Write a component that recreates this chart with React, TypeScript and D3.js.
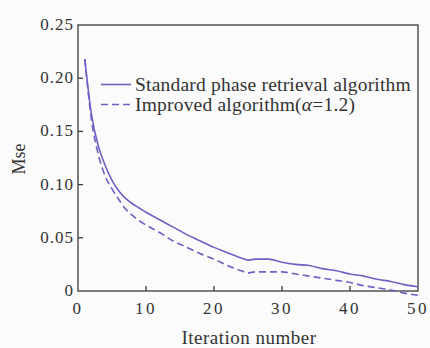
import React from 'react'
import * as d3 from 'd3'

// iteration numbers and mse
const iterations = [1, 2, 3, 4, 5, 6, 7, 8, 9, 10, 12, 14, 16, 18, 20, 22, 24, 25, 26, 28, 30, 32, 34, 36, 38, 40, 42, 44, 46, 48, 50]
const standardMse = [0.218, 0.165, 0.136, 0.118, 0.104, 0.094, 0.087, 0.082, 0.078, 0.074, 0.067, 0.060, 0.053, 0.047, 0.041, 0.036, 0.031, 0.029, 0.030, 0.030, 0.027, 0.025, 0.024, 0.021, 0.019, 0.016, 0.014, 0.011, 0.009, 0.006, 0.004]
const improvedMse = [0.218, 0.160, 0.128, 0.108, 0.096, 0.086, 0.077, 0.071, 0.066, 0.062, 0.055, 0.047, 0.041, 0.035, 0.030, 0.024, 0.019, 0.017, 0.018, 0.018, 0.018, 0.016, 0.014, 0.012, 0.010, 0.008, 0.005, 0.003, 0.001, -0.002, -0.004]
const xTicks = [0, 10, 20, 30, 40, 50]
const yTicks = [0, 0.05, 0.1, 0.15, 0.2, 0.25]

const W = 430
const H = 348
const m = { left: 78, right: 12, top: 25, bottom: 57 }
const lineColor = '#6b62c4'
const axisColor = '#3a3a3a'
const font = '"Liberation Serif", "Times New Roman", serif'

export default function App() {
  const x = d3.scaleLinear().domain([0, 50]).range([m.left, W - m.right])
  const y = d3.scaleLinear().domain([0, 0.25]).range([H - m.bottom, m.top])

  const line = d3.line<number>()
    .x((_, i) => x(iterations[i]))
    .y(d => y(d))
    .curve(d3.curveMonotoneX)

  const x0 = x(0), x1 = x(50), y0 = y(0), y1 = y(0.25)

  return (
    <svg width={W} height={H} style={{ display: 'block', position: 'absolute', left: 0, top: 0, background: '#fbfbfb' }}>
      {/* frame */}
      <rect x={x0} y={y1} width={x1 - x0} height={y0 - y1} fill="none" stroke={axisColor} strokeWidth={1.3} />

      {/* x ticks */}
      {xTicks.map(t => (
        <g key={'x' + t}>
          {t > 0 && t < 50 && <line x1={x(t)} x2={x(t)} y1={y0} y2={y0 - 5} stroke={axisColor} strokeWidth={1.3} />}
          <text x={x(t)} y={y0 + 23} textAnchor="middle" fontFamily={font} fontSize={17} letterSpacing={2.5} fill="#333">{t}</text>
        </g>
      ))}

      {/* y ticks */}
      {yTicks.map(t => (
        <g key={'y' + t}>
          {t > 0 && t < 0.25 && <line x1={x0} x2={x0 + 5} y1={y(t)} y2={y(t)} stroke={axisColor} strokeWidth={1.3} />}
          <text x={x0 - 4} y={y(t) + 5} textAnchor="end" fontFamily={font} fontSize={17} letterSpacing={1} fill="#333">
            {t === 0 ? '0' : t.toFixed(2)}
          </text>
        </g>
      ))}

      {/* series */}
      <path d={line(standardMse) ?? ''} fill="none" stroke={lineColor} strokeWidth={1.6} />
      <path d={line(improvedMse) ?? ''} fill="none" stroke={lineColor} strokeWidth={1.6} strokeDasharray="7,4" />

      {/* legend */}
      <line x1={101} x2={131} y1={84.5} y2={84.5} stroke={lineColor} strokeWidth={1.6} />
      <text x={135} y={90.5} fontFamily={font} fontSize={19.5} letterSpacing={0.2} fill="#333">Standard phase retrieval algorithm</text>
      <line x1={101} x2={131} y1={104.5} y2={104.5} stroke={lineColor} strokeWidth={1.6} strokeDasharray="7,4" />
      <text x={135} y={111} fontFamily={font} fontSize={19.5} letterSpacing={0.2} fill="#333">
        Improved algorithm(<tspan fontStyle="italic">α</tspan>=1.2)
      </text>

      {/* axis titles */}
      <text transform={`translate(25,159) rotate(-90)`} textAnchor="middle" fontFamily={font} fontSize={18} fill="#333">Mse</text>
      <text x={249} y={344} textAnchor="middle" fontFamily={font} fontSize={19} letterSpacing={0.5} fill="#333">Iteration number</text>
    </svg>
  )
}
